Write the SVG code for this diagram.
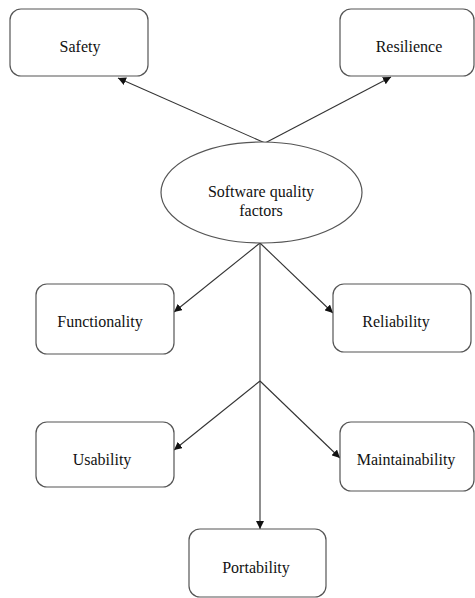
<svg xmlns="http://www.w3.org/2000/svg" width="475" height="598" viewBox="0 0 475 598">
  <style>
    .box { fill: #ffffff; stroke: #555555; stroke-width: 1.2; }
    .lbl { font-family: "Liberation Serif", "Times New Roman", serif; font-size: 16px; fill: #111111; text-anchor: middle; }
    .arr { stroke: #333333; stroke-width: 1.1; fill: none; marker-end: url(#head); }
  </style>
  <defs>
    <marker id="head" viewBox="0 0 10 10" refX="10" refY="5" markerWidth="8" markerHeight="8" markerUnits="userSpaceOnUse" orient="auto">
      <path d="M0,0 L10,5 L0,10 z" fill="#111111"/>
    </marker>
  </defs>
  <rect width="475" height="598" fill="#ffffff"/>

  <g id="connectors">
    <line class="arr" x1="265" y1="143" x2="118" y2="78"/>
    <line class="arr" x1="265" y1="143" x2="391" y2="77"/>
    <line class="arr" x1="260" y1="243" x2="174" y2="312"/>
    <line class="arr" x1="260" y1="243" x2="333" y2="313"/>
    <line class="arr" x1="260" y1="243" x2="260" y2="529"/>
    <line class="arr" x1="260" y1="381" x2="174" y2="450"/>
    <line class="arr" x1="260" y1="381" x2="340" y2="458"/>
  </g>

  <g id="safety">
    <rect class="box" x="10" y="9" width="138" height="67" rx="11"/>
    <text class="lbl" x="80" y="52">Safety</text>
  </g>
  <g id="resilience">
    <rect class="box" x="340" y="9" width="134" height="67" rx="11"/>
    <text class="lbl" x="409" y="52">Resilience</text>
  </g>
  <g id="quality-factors">
    <ellipse class="box" cx="261.5" cy="192.5" rx="100.5" ry="50.5"/>
    <text class="lbl" x="261" y="197">Software quality</text>
    <text class="lbl" x="261" y="216">factors</text>
  </g>
  <g id="functionality">
    <rect class="box" x="36" y="284" width="138" height="70" rx="11"/>
    <text class="lbl" x="100" y="327">Functionality</text>
  </g>
  <g id="reliability">
    <rect class="box" x="333" y="284" width="138" height="68" rx="11"/>
    <text class="lbl" x="396" y="327">Reliability</text>
  </g>
  <g id="usability">
    <rect class="box" x="36" y="422" width="138" height="65" rx="11"/>
    <text class="lbl" x="102" y="465">Usability</text>
  </g>
  <g id="maintainability">
    <rect class="box" x="340" y="422" width="134" height="69" rx="11"/>
    <text class="lbl" x="406" y="465">Maintainability</text>
  </g>
  <g id="portability">
    <rect class="box" x="189" y="529" width="137" height="68" rx="11"/>
    <text class="lbl" x="256" y="573">Portability</text>
  </g>
</svg>
